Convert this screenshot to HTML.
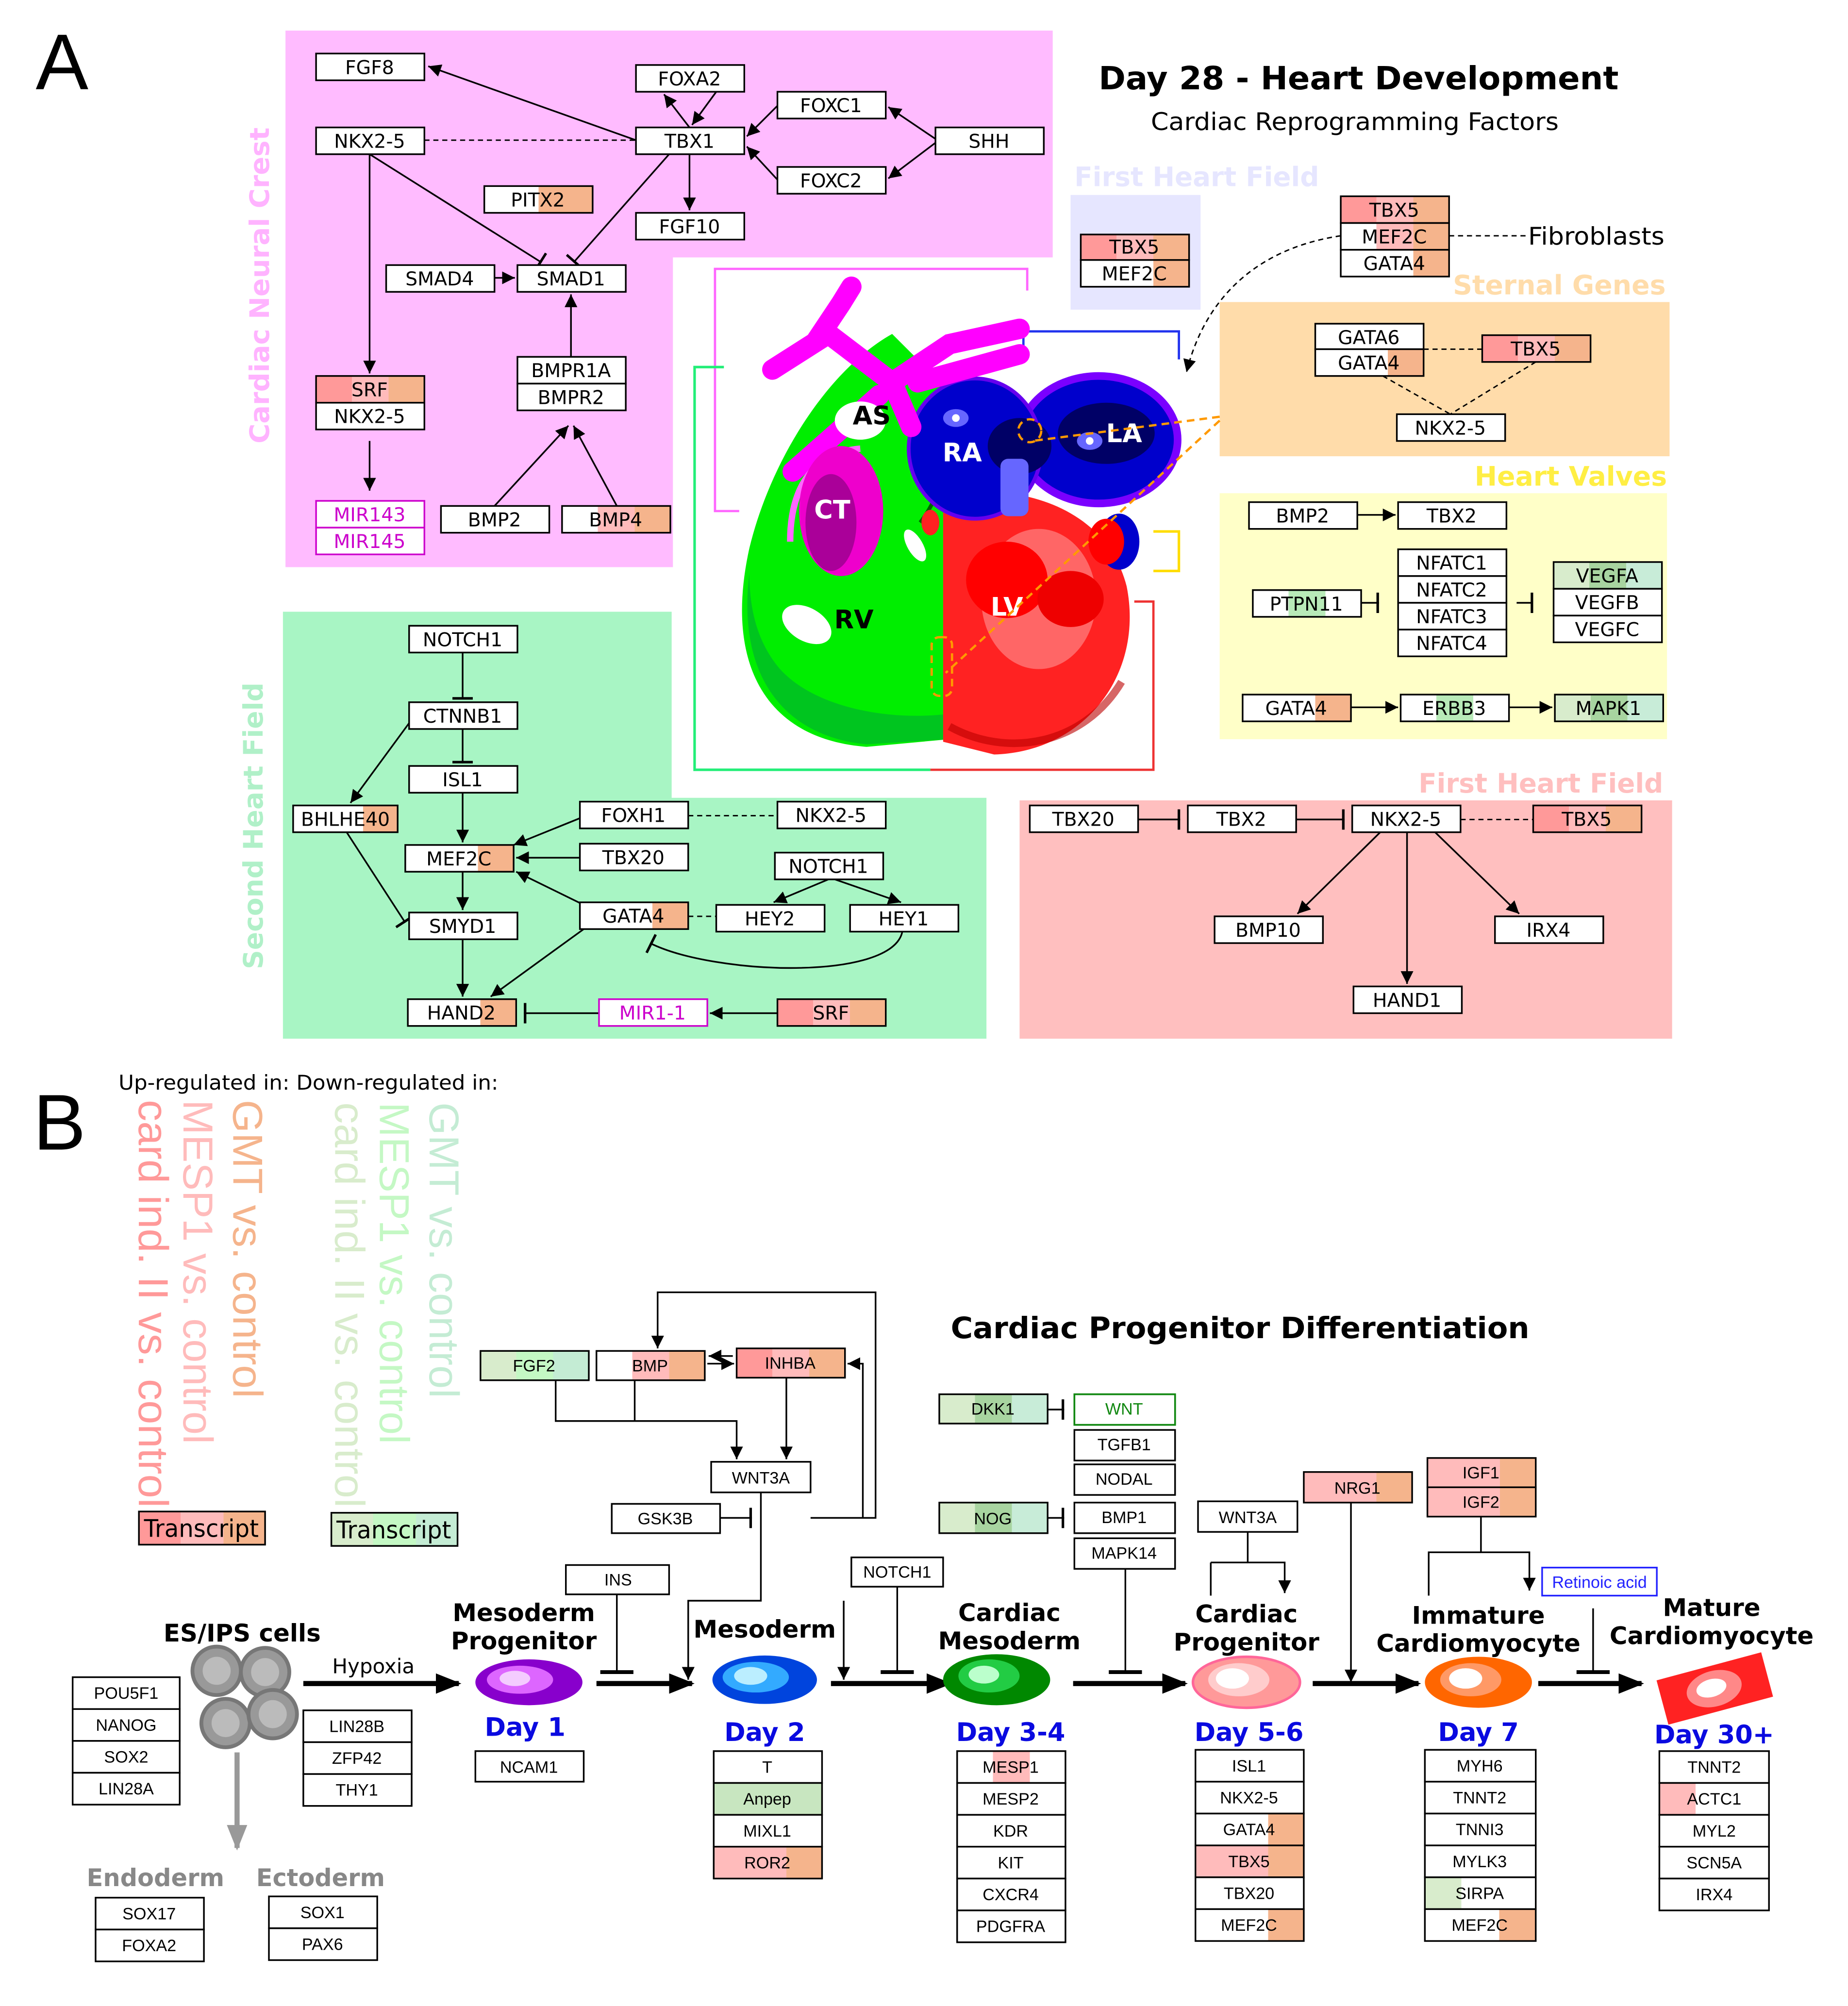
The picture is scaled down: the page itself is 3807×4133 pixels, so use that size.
<!DOCTYPE html>
<html><head><meta charset="utf-8"><style>
html,body{margin:0;padding:0;background:#fff}
svg{display:block}
text{font-family:"DejaVu Sans","Liberation Sans",sans-serif}
.b{stroke:#000;stroke-width:1.3}
.t{font-size:15px;text-anchor:middle;fill:#000}
.s{font-size:13px;text-anchor:middle;fill:#000;font-family:"Liberation Sans",sans-serif}
.l{stroke:#000;stroke-width:1.3;fill:none}
.d{stroke:#000;stroke-width:1.1;fill:none;stroke-dasharray:4 3}
.h{font-weight:bold;font-size:19px;text-anchor:middle;fill:#000}
.day{font-weight:bold;font-size:20px;text-anchor:middle;fill:#0a0ae0}
.fl{stroke:#000;stroke-width:4;fill:none}
.lib{font-family:"Liberation Sans",sans-serif}
</style></head><body>
<svg width="3807" height="4133" viewBox="0 0 1450 1574" preserveAspectRatio="none" xmlns="http://www.w3.org/2000/svg">
<defs>
<marker id="a" viewBox="0 0 10 10" refX="10" refY="5" markerWidth="10" markerHeight="10" markerUnits="userSpaceOnUse" orient="auto"><path d="M0,0L10,5L0,10z"/></marker>
<marker id="i" viewBox="0 0 4 16" refX="3" refY="8" markerWidth="4" markerHeight="16" markerUnits="userSpaceOnUse" orient="auto"><rect x="1" y="0" width="2" height="16"/></marker>
<marker id="A" viewBox="0 0 10 10" refX="9" refY="5" markerWidth="20" markerHeight="20" markerUnits="userSpaceOnUse" orient="auto"><path d="M0,1L10,5L0,9z"/></marker>
<marker id="ga" viewBox="0 0 10 10" refX="9" refY="5" markerWidth="20" markerHeight="20" markerUnits="userSpaceOnUse" orient="auto"><path d="M0,1L10,5L0,9z" fill="#999"/></marker>
<linearGradient id="gRO"><stop offset="0.33" stop-color="#ff9999"/><stop offset="0.33" stop-color="#ffbbbb"/><stop offset="0.67" stop-color="#ffbbbb"/><stop offset="0.67" stop-color="#f5b48c"/></linearGradient>
<linearGradient id="gPO"><stop offset="0.67" stop-color="#ffbbbb"/><stop offset="0.67" stop-color="#f5b48c"/></linearGradient>
<linearGradient id="gWPO"><stop offset="0.33" stop-color="#fff"/><stop offset="0.33" stop-color="#ffbbbb"/><stop offset="0.67" stop-color="#ffbbbb"/><stop offset="0.67" stop-color="#f5b48c"/></linearGradient>
<linearGradient id="gO"><stop offset="0.67" stop-color="#fff"/><stop offset="0.67" stop-color="#f5b48c"/></linearGradient>
<linearGradient id="gOh"><stop offset="0.5" stop-color="#fff"/><stop offset="0.5" stop-color="#f5b48c"/></linearGradient>
<linearGradient id="gG"><stop offset="0.33" stop-color="#d8eccc"/><stop offset="0.33" stop-color="#a8d4a0"/><stop offset="0.67" stop-color="#a8d4a0"/><stop offset="0.67" stop-color="#c8ecd8"/></linearGradient>
<linearGradient id="gG2"><stop offset="0.33" stop-color="#d8eccc"/><stop offset="0.33" stop-color="#c4f8c4"/><stop offset="0.67" stop-color="#c4f8c4"/><stop offset="0.67" stop-color="#c4ecd4"/></linearGradient>
<linearGradient id="gGm"><stop offset="0.33" stop-color="#fff"/><stop offset="0.33" stop-color="#b8eab8"/><stop offset="0.67" stop-color="#b8eab8"/><stop offset="0.67" stop-color="#fff"/></linearGradient>
<linearGradient id="gGl"><stop offset="0.33" stop-color="#d8eccc"/><stop offset="0.33" stop-color="#fff"/></linearGradient>
<linearGradient id="gMP"><stop offset="0.33" stop-color="#fff"/><stop offset="0.33" stop-color="#ffbbbb"/><stop offset="0.67" stop-color="#ffbbbb"/><stop offset="0.67" stop-color="#fff"/></linearGradient>
<linearGradient id="gPl"><stop offset="0.33" stop-color="#ffbbbb"/><stop offset="0.33" stop-color="#fff"/></linearGradient>
</defs>

<!-- ============ PART A ============ -->
<text x="28" y="70" font-size="62" fill="#000" class="lib">A</text>

<path d="M224,24H826V202H528V445H224Z" fill="#ffbbff"/>
<path d="M222,480H527V626H774V815H222Z" fill="#a8f5c4"/>
<rect x="840" y="153" width="102" height="90" fill="#e6e6ff"/>
<rect x="957" y="237" width="353" height="121" fill="#ffdcaa"/>
<rect x="957" y="387" width="351" height="193" fill="#ffffc8"/>
<rect x="800" y="628" width="512" height="187" fill="#ffbfbf"/>

<text transform="translate(211,224) rotate(-90)" font-size="21" font-weight="bold" fill="#ffb3ff" text-anchor="middle" textLength="248" lengthAdjust="spacingAndGlyphs">Cardiac Neural Crest</text>
<text transform="translate(206,648) rotate(-90)" font-size="21" font-weight="bold" fill="#b0f0c8" text-anchor="middle" textLength="225" lengthAdjust="spacingAndGlyphs">Second Heart Field</text>
<text x="843" y="146" font-size="21" font-weight="bold" fill="#e6e6ff" textLength="192" lengthAdjust="spacingAndGlyphs">First Heart Field</text>
<text x="1140" y="231" font-size="21" font-weight="bold" fill="#ffdcaa" textLength="167" lengthAdjust="spacingAndGlyphs">Sternal Genes</text>
<text x="1157" y="381" font-size="21" font-weight="bold" fill="#ffee44" textLength="151" lengthAdjust="spacingAndGlyphs">Heart Valves</text>
<text x="1113" y="622" font-size="21" font-weight="bold" fill="#ffbfbf" textLength="192" lengthAdjust="spacingAndGlyphs">First Heart Field</text>

<text x="862" y="70" font-size="25" font-weight="bold" textLength="408" lengthAdjust="spacingAndGlyphs">Day 28 - Heart Development</text>
<text x="903" y="102" font-size="19" textLength="320" lengthAdjust="spacingAndGlyphs">Cardiac Reprogramming Factors</text>

<!-- pink network edges -->
<line class="l" x1="499" y1="110" x2="336" y2="52" marker-end="url(#a)"/>
<line class="l" x1="541" y1="100" x2="521" y2="74" marker-end="url(#a)"/>
<line class="l" x1="562" y1="72" x2="543" y2="98" marker-end="url(#a)"/>
<line class="l" x1="610" y1="83" x2="586" y2="107" marker-end="url(#a)"/>
<line class="l" x1="610" y1="141" x2="586" y2="115" marker-end="url(#a)"/>
<line class="l" x1="734" y1="109" x2="697" y2="84" marker-end="url(#a)"/>
<line class="l" x1="734" y1="112" x2="697" y2="140" marker-end="url(#a)"/>
<line class="d" x1="333" y1="110" x2="499" y2="110"/>
<line class="l" x1="541" y1="121" x2="541" y2="165" marker-end="url(#a)"/>
<line class="l" x1="525" y1="121" x2="450" y2="206" marker-end="url(#i)"/>
<line class="l" x1="290" y1="121" x2="425" y2="206" marker-end="url(#i)"/>
<line class="l" x1="290" y1="121" x2="290" y2="293" marker-end="url(#a)"/>
<line class="l" x1="388" y1="218" x2="404" y2="218" marker-end="url(#a)"/>
<line class="l" x1="448" y1="280" x2="448" y2="231" marker-end="url(#a)"/>
<line class="l" x1="388" y1="397" x2="446" y2="334" marker-end="url(#a)"/>
<line class="l" x1="484" y1="397" x2="450" y2="334" marker-end="url(#a)"/>
<line class="l" x1="290" y1="346" x2="290" y2="385" marker-end="url(#a)"/>

<g>
<rect class="b" x="248" y="42" width="85" height="21" fill="#fff"/><text class="t" x="290" y="58">FGF8</text>
<rect class="b" x="499" y="51" width="85" height="21" fill="#fff"/><text class="t" x="541" y="67">FOXA2</text>
<rect class="b" x="499" y="100" width="85" height="21" fill="#fff"/><text class="t" x="541" y="116">TBX1</text>
<rect class="b" x="248" y="100" width="85" height="21" fill="#fff"/><text class="t" x="290" y="116">NKX2-5</text>
<rect class="b" x="610" y="72" width="85" height="21" fill="#fff"/><text class="t" x="652" y="88">FOXC1</text>
<rect class="b" x="734" y="100" width="85" height="21" fill="#fff"/><text class="t" x="776" y="116">SHH</text>
<rect class="b" x="610" y="131" width="85" height="21" fill="#fff"/><text class="t" x="652" y="147">FOXC2</text>
<rect class="b" x="380" y="146" width="85" height="21" fill="url(#gOh)"/><text class="t" x="422" y="162">PITX2</text>
<rect class="b" x="499" y="167" width="85" height="21" fill="#fff"/><text class="t" x="541" y="183">FGF10</text>
<rect class="b" x="303" y="208" width="85" height="21" fill="#fff"/><text class="t" x="345" y="224">SMAD4</text>
<rect class="b" x="406" y="208" width="85" height="21" fill="#fff"/><text class="t" x="448" y="224">SMAD1</text>
<rect class="b" x="406" y="280" width="85" height="21" fill="#fff"/><text class="t" x="448" y="296">BMPR1A</text>
<rect class="b" x="406" y="301" width="85" height="21" fill="#fff"/><text class="t" x="448" y="317">BMPR2</text>
<rect class="b" x="248" y="295" width="85" height="21" fill="url(#gRO)"/><text class="t" x="290" y="311">SRF</text>
<rect class="b" x="248" y="316" width="85" height="21" fill="#fff"/><text class="t" x="290" y="332">NKX2-5</text>
<rect x="248" y="393" width="85" height="21" fill="#fff" stroke="#cc00cc" stroke-width="1.3"/><text class="t" x="290" y="409" style="fill:#cc00cc">MIR143</text>
<rect x="248" y="414" width="85" height="21" fill="#fff" stroke="#cc00cc" stroke-width="1.3"/><text class="t" x="290" y="430" style="fill:#cc00cc">MIR145</text>
<rect class="b" x="346" y="397" width="85" height="21" fill="#fff"/><text class="t" x="388" y="413">BMP2</text>
<rect class="b" x="441" y="397" width="85" height="21" fill="url(#gWPO)"/><text class="t" x="483" y="413">BMP4</text>
</g>

<!-- heart brackets -->
<polyline points="580,401 561,401 561,211 806,211 806,228" fill="none" stroke="#ff66ff" stroke-width="1.8"/>
<polyline points="568,288 545,288 545,604 730,604" fill="none" stroke="#22ee77" stroke-width="2"/>
<polyline points="730,604 905,604 905,472 890,472" fill="none" stroke="#ee3333" stroke-width="1.8"/>
<polyline points="803,283 803,260 925,260 925,282" fill="none" stroke="#2233ee" stroke-width="1.8"/>
<polyline points="905,417 925,417 925,448 905,448" fill="none" stroke="#ffdd00" stroke-width="2"/>

<!-- heart -->
<g>
<path d="M700,262 C650,290 605,360 588,430 C568,520 600,580 680,586 L745,580 L748,420 L738,300 Z" fill="#00ee00"/>
<path d="M588,450 C578,530 615,578 680,584 L745,580 L745,560 C700,566 640,556 612,525 C595,505 588,480 588,450Z" fill="#00aa33" opacity="0.6"/>
<path d="M738,300 C748,340 745,380 722,410" fill="none" stroke="#006600" stroke-width="3"/>
<path d="M740,388 C800,378 868,398 884,460 C898,530 850,590 780,592 L740,582 Z" fill="#ff2222"/>
<ellipse cx="815" cy="470" rx="45" ry="55" fill="#ff6666"/>
<ellipse cx="790" cy="455" rx="32" ry="30" fill="#ff0000"/>
<ellipse cx="840" cy="470" rx="26" ry="22" fill="#ee0000"/>
<path d="M745,570 C790,595 850,585 880,535" fill="none" stroke="#bb0000" stroke-width="6" opacity="0.6"/>
<ellipse cx="862" cy="345" rx="62" ry="50" fill="#0000cc" stroke="#7a00ff" stroke-width="6"/>
<ellipse cx="868" cy="340" rx="38" ry="24" fill="#000066"/>
<ellipse cx="765" cy="352" rx="52" ry="55" fill="#0000cc" stroke="#6600ee" stroke-width="3"/>
<ellipse cx="800" cy="350" rx="25" ry="22" fill="#000066"/>
<rect x="785" y="360" width="22" height="45" rx="6" fill="#6666ff"/>
<ellipse cx="878" cy="425" rx="16" ry="22" fill="#0000cc"/>
<ellipse cx="868" cy="425" rx="14" ry="18" fill="#ff0000"/>
<ellipse cx="750" cy="328" rx="10" ry="7" fill="#6666ff"/><circle cx="750" cy="328" r="3" fill="#fff"/>
<ellipse cx="855" cy="346" rx="10" ry="7" fill="#6666ff"/><circle cx="855" cy="346" r="3" fill="#fff"/>
<g stroke="#ff00ff" stroke-width="16" stroke-linecap="round" fill="none">
<path d="M606,290 L650,262 L700,300"/>
<path d="M640,268 L660,238 L668,225"/>
<path d="M700,300 L745,270 L800,258"/>
<path d="M720,300 L800,278"/>
<path d="M690,310 L622,370"/>
<path d="M700,300 L715,335"/>
</g>
<ellipse cx="675" cy="330" rx="20" ry="15" fill="#fff"/>
<path d="M620,425 C620,380 640,355 675,352" fill="none" stroke="#ff66ff" stroke-width="5"/>
<ellipse cx="660" cy="401" rx="33" ry="51" fill="#ee00cc"/>
<ellipse cx="652" cy="410" rx="20" ry="38" fill="#aa0099"/>
<ellipse cx="633" cy="490" rx="21" ry="13" transform="rotate(30 633 490)" fill="#fff"/>
<ellipse cx="718" cy="428" rx="6" ry="14" transform="rotate(-30 718 428)" fill="#fff"/>
<ellipse cx="730" cy="410" rx="7" ry="10" fill="#ff2222"/>
<text x="684" y="333" font-size="20" font-weight="bold" text-anchor="middle" fill="#000">AS</text>
<text x="755" y="362" font-size="20" font-weight="bold" text-anchor="middle" fill="#fff">RA</text>
<text x="882" y="347" font-size="20" font-weight="bold" text-anchor="middle" fill="#fff">LA</text>
<text x="653" y="407" font-size="20" font-weight="bold" text-anchor="middle" fill="#fff">CT</text>
<text x="670" y="493" font-size="20" font-weight="bold" text-anchor="middle" fill="#000">RV</text>
<text x="790" y="483" font-size="20" font-weight="bold" text-anchor="middle" fill="#fff">LV</text>
</g>
<g stroke="#ff9900" stroke-width="1.8" stroke-dasharray="6 4" fill="none">
<line x1="957" y1="327" x2="810" y2="346"/>
<circle cx="808" cy="338" r="9"/>
<line x1="957" y1="330" x2="742" y2="528"/>
<rect x="731" y="500" width="16" height="46" rx="6"/>
</g>

<rect class="b" x="848" y="184" width="85" height="20" fill="url(#gRO)"/><text class="t" x="890" y="199">TBX5</text>
<rect class="b" x="848" y="204" width="85" height="21" fill="url(#gO)"/><text class="t" x="890" y="220">MEF2C</text>
<rect class="b" x="1052" y="154" width="85" height="21" fill="url(#gRO)"/><text class="t" x="1094" y="170">TBX5</text>
<rect class="b" x="1052" y="175" width="85" height="21" fill="url(#gWPO)"/><text class="t" x="1094" y="191">MEF2C</text>
<rect class="b" x="1052" y="196" width="85" height="21" fill="url(#gO)"/><text class="t" x="1094" y="212">GATA4</text>
<line class="d" x1="1137" y1="185" x2="1198" y2="185"/>
<text x="1199" y="192" font-size="19" textLength="107" lengthAdjust="spacingAndGlyphs">Fibroblasts</text>
<path class="d" d="M1052,185 C985,195 945,235 931,292" marker-end="url(#a)"/>

<line class="d" x1="1117" y1="274" x2="1163" y2="274"/>
<line class="d" x1="1085" y1="295" x2="1138" y2="325"/>
<line class="d" x1="1205" y1="284" x2="1138" y2="325"/>
<rect class="b" x="1032" y="254" width="85" height="20" fill="#fff"/><text class="t" x="1074" y="270">GATA6</text>
<rect class="b" x="1032" y="274" width="85" height="21" fill="url(#gO)"/><text class="t" x="1074" y="290">GATA4</text>
<rect class="b" x="1163" y="263" width="85" height="21" fill="url(#gRO)"/><text class="t" x="1205" y="279">TBX5</text>
<rect class="b" x="1096" y="325" width="85" height="21" fill="#fff"/><text class="t" x="1138" y="341">NKX2-5</text>

<line class="l" x1="1065" y1="404" x2="1095" y2="404" marker-end="url(#a)"/>
<line class="l" x1="1068" y1="473" x2="1082" y2="473" marker-end="url(#i)"/>
<line class="l" x1="1190" y1="473" x2="1203" y2="473" marker-end="url(#i)"/>
<line class="l" x1="1060" y1="555" x2="1097" y2="555" marker-end="url(#a)"/>
<line class="l" x1="1184" y1="555" x2="1218" y2="555" marker-end="url(#a)"/>
<rect class="b" x="980" y="394" width="85" height="21" fill="#fff"/><text class="t" x="1022" y="410">BMP2</text>
<rect class="b" x="1097" y="394" width="85" height="21" fill="#fff"/><text class="t" x="1139" y="410">TBX2</text>
<rect class="b" x="1097" y="431" width="85" height="21" fill="#fff"/><text class="t" x="1139" y="447">NFATC1</text>
<rect class="b" x="1097" y="452" width="85" height="21" fill="#fff"/><text class="t" x="1139" y="468">NFATC2</text>
<rect class="b" x="1097" y="473" width="85" height="21" fill="#fff"/><text class="t" x="1139" y="489">NFATC3</text>
<rect class="b" x="1097" y="494" width="85" height="21" fill="#fff"/><text class="t" x="1139" y="510">NFATC4</text>
<rect class="b" x="983" y="463" width="85" height="21" fill="url(#gGm)"/><text class="t" x="1025" y="479">PTPN11</text>
<rect class="b" x="1219" y="441" width="85" height="21" fill="url(#gG)"/><text class="t" x="1261" y="457">VEGFA</text>
<rect class="b" x="1219" y="462" width="85" height="21" fill="#fff"/><text class="t" x="1261" y="478">VEGFB</text>
<rect class="b" x="1219" y="483" width="85" height="21" fill="#fff"/><text class="t" x="1261" y="499">VEGFC</text>
<rect class="b" x="975" y="545" width="85" height="21" fill="url(#gO)"/><text class="t" x="1017" y="561">GATA4</text>
<rect class="b" x="1099" y="545" width="85" height="21" fill="url(#gGm)"/><text class="t" x="1141" y="561">ERBB3</text>
<rect class="b" x="1220" y="545" width="85" height="21" fill="url(#gG)"/><text class="t" x="1262" y="561">MAPK1</text>

<line class="l" x1="893" y1="643" x2="926" y2="643" marker-end="url(#i)"/>
<line class="l" x1="1017" y1="643" x2="1055" y2="643" marker-end="url(#i)"/>
<line class="d" x1="1146" y1="643" x2="1203" y2="643"/>
<line class="l" x1="1083" y1="653" x2="1018" y2="717" marker-end="url(#a)"/>
<line class="l" x1="1104" y1="653" x2="1104" y2="772" marker-end="url(#a)"/>
<line class="l" x1="1126" y1="653" x2="1192" y2="717" marker-end="url(#a)"/>
<rect class="b" x="808" y="632" width="85" height="21" fill="#fff"/><text class="t" x="850" y="648">TBX20</text>
<rect class="b" x="932" y="632" width="85" height="21" fill="#fff"/><text class="t" x="974" y="648">TBX2</text>
<rect class="b" x="1061" y="632" width="85" height="21" fill="#fff"/><text class="t" x="1103" y="648">NKX2-5</text>
<rect class="b" x="1203" y="632" width="85" height="21" fill="url(#gRO)"/><text class="t" x="1245" y="648">TBX5</text>
<rect class="b" x="953" y="719" width="85" height="21" fill="#fff"/><text class="t" x="995" y="735">BMP10</text>
<rect class="b" x="1062" y="774" width="85" height="21" fill="#fff"/><text class="t" x="1104" y="790">HAND1</text>
<rect class="b" x="1173" y="719" width="85" height="21" fill="#fff"/><text class="t" x="1215" y="735">IRX4</text>

<line class="l" x1="363" y1="512" x2="363" y2="549" marker-end="url(#i)"/>
<line class="l" x1="363" y1="572" x2="363" y2="599" marker-end="url(#i)"/>
<line class="l" x1="322" y1="566" x2="275" y2="630" marker-end="url(#a)"/>
<line class="l" x1="363" y1="622" x2="363" y2="661" marker-end="url(#a)"/>
<line class="d" x1="540" y1="640" x2="610" y2="640"/>
<line class="l" x1="455" y1="642" x2="403" y2="663" marker-end="url(#a)"/>
<line class="l" x1="455" y1="673" x2="405" y2="673" marker-end="url(#a)"/>
<line class="l" x1="650" y1="690" x2="607" y2="708" marker-end="url(#a)"/>
<line class="l" x1="655" y1="690" x2="707" y2="708" marker-end="url(#a)"/>
<line class="d" x1="540" y1="719" x2="562" y2="719"/>
<path class="l" d="M708,731 C700,770 560,765 510,740" marker-end="url(#i)"/>
<line class="l" x1="458" y1="710" x2="405" y2="684" marker-end="url(#a)"/>
<line class="l" x1="272" y1="653" x2="318" y2="724" marker-end="url(#i)"/>
<line class="l" x1="363" y1="684" x2="363" y2="714" marker-end="url(#a)"/>
<line class="l" x1="363" y1="737" x2="363" y2="782" marker-end="url(#a)"/>
<line class="l" x1="458" y1="729" x2="385" y2="782" marker-end="url(#a)"/>
<line class="l" x1="470" y1="795" x2="411" y2="795" marker-end="url(#i)"/>
<line class="l" x1="610" y1="795" x2="557" y2="795" marker-end="url(#a)"/>
<rect class="b" x="321" y="491" width="85" height="21" fill="#fff"/><text class="t" x="363" y="507">NOTCH1</text>
<rect class="b" x="321" y="551" width="85" height="21" fill="#fff"/><text class="t" x="363" y="567">CTNNB1</text>
<rect class="b" x="321" y="601" width="85" height="21" fill="#fff"/><text class="t" x="363" y="617">ISL1</text>
<rect class="b" x="230" y="632" width="82" height="21" fill="url(#gO)"/><text class="t" x="271" y="648">BHLHE40</text>
<rect class="b" x="318" y="663" width="85" height="21" fill="url(#gO)"/><text class="t" x="360" y="679">MEF2C</text>
<rect class="b" x="455" y="629" width="85" height="21" fill="#fff"/><text class="t" x="497" y="645">FOXH1</text>
<rect class="b" x="610" y="629" width="85" height="21" fill="#fff"/><text class="t" x="652" y="645">NKX2-5</text>
<rect class="b" x="455" y="662" width="85" height="21" fill="#fff"/><text class="t" x="497" y="678">TBX20</text>
<rect class="b" x="608" y="669" width="85" height="21" fill="#fff"/><text class="t" x="650" y="685">NOTCH1</text>
<rect class="b" x="562" y="710" width="85" height="21" fill="#fff"/><text class="t" x="604" y="726">HEY2</text>
<rect class="b" x="667" y="710" width="85" height="21" fill="#fff"/><text class="t" x="709" y="726">HEY1</text>
<rect class="b" x="455" y="708" width="85" height="21" fill="url(#gO)"/><text class="t" x="497" y="724">GATA4</text>
<rect class="b" x="321" y="716" width="85" height="21" fill="#fff"/><text class="t" x="363" y="732">SMYD1</text>
<rect class="b" x="320" y="784" width="85" height="21" fill="url(#gO)"/><text class="t" x="362" y="800">HAND2</text>
<rect x="470" y="784" width="85" height="21" fill="#fff" stroke="#cc00cc" stroke-width="1.3"/><text class="t" x="512" y="800" style="fill:#cc00cc">MIR1-1</text>
<rect class="b" x="610" y="784" width="85" height="21" fill="url(#gRO)"/><text class="t" x="652" y="800">SRF</text>

<!-- ============ PART B ============ -->
<text x="26" y="902" font-size="62" fill="#000" class="lib">B</text>
<text x="93" y="855" font-size="16" textLength="298" lengthAdjust="spacingAndGlyphs">Up-regulated in: Down-regulated in:</text>
<g font-size="33" class="lib">
<text class="lib" transform="translate(109,863) rotate(90)" fill="#ff9999" textLength="320" lengthAdjust="spacingAndGlyphs">card ind. II vs. control</text>
<text class="lib" transform="translate(144,863) rotate(90)" fill="#ffbbbb" textLength="270" lengthAdjust="spacingAndGlyphs">MESP1 vs. control</text>
<text class="lib" transform="translate(183,863) rotate(90)" fill="#f5b48c" textLength="234" lengthAdjust="spacingAndGlyphs">GMT vs. control</text>
<text class="lib" transform="translate(263,865) rotate(90)" fill="#d8eccc" textLength="318" lengthAdjust="spacingAndGlyphs">card ind. II vs. control</text>
<text class="lib" transform="translate(298,865) rotate(90)" fill="#c4f8c4" textLength="268" lengthAdjust="spacingAndGlyphs">MESP1 vs. control</text>
<text class="lib" transform="translate(337,865) rotate(90)" fill="#c4ecd4" textLength="232" lengthAdjust="spacingAndGlyphs">GMT vs. control</text>
</g>
<rect class="b" x="109" y="1186" width="99" height="26" fill="url(#gRO)"/><text x="158" y="1206" font-size="19" text-anchor="middle" textLength="90" lengthAdjust="spacingAndGlyphs">Transcript</text>
<rect class="b" x="260" y="1187" width="99" height="26" fill="url(#gG2)"/><text x="309" y="1207" font-size="19" text-anchor="middle" textLength="90" lengthAdjust="spacingAndGlyphs">Transcript</text>

<text x="746" y="1050" font-size="23" font-weight="bold" textLength="454" lengthAdjust="spacingAndGlyphs">Cardiac Progenitor Differentiation</text>

<polyline class="l" points="436,1083 436,1115 578,1115 578,1145" marker-end="url(#a)"/>
<line class="l" x1="498" y1="1083" x2="498" y2="1115"/>
<line class="l" x1="617" y1="1081" x2="617" y2="1145" marker-end="url(#a)"/>
<line class="l" x1="555" y1="1070" x2="576" y2="1070" marker-end="url(#a)"/>
<line class="l" x1="575" y1="1064" x2="556" y2="1064" marker-end="url(#a)"/>
<polyline class="l" points="636,1191 687,1191 687,1014 516,1014 516,1058" marker-end="url(#a)"/>
<polyline class="l" points="677,1191 677,1070 665,1070" marker-end="url(#a)"/>
<line class="l" x1="565" y1="1191" x2="590" y2="1191" marker-end="url(#i)"/>
<polyline class="l" points="597,1171 597,1256 540,1256 540,1318" marker-end="url(#a)"/>
<polyline class="l" points="484,1250 484,1312"/><line class="l" x1="471" y1="1312" x2="497" y2="1312" style="stroke-width:3"/>
<polyline class="l" points="704,1245 704,1312"/><line class="l" x1="691" y1="1312" x2="717" y2="1312" style="stroke-width:3"/>
<polyline class="l" points="662,1256 662,1318" marker-end="url(#a)"/>
<line class="l" x1="822" y1="1106" x2="835" y2="1106" marker-end="url(#i)"/>
<line class="l" x1="822" y1="1191" x2="835" y2="1191" marker-end="url(#i)"/>
<polyline class="l" points="883,1231 883,1312"/><line class="l" x1="870" y1="1312" x2="896" y2="1312" style="stroke-width:3"/>
<polyline class="l" points="979,1202 979,1226 1008,1226 1008,1250" marker-end="url(#a)"/>
<line class="l" x1="950" y1="1226" x2="979" y2="1226"/><line class="l" x1="950" y1="1226" x2="950" y2="1252"/>
<line class="l" x1="1060" y1="1179" x2="1060" y2="1320" marker-end="url(#a)"/>
<polyline class="l" points="1162,1190 1162,1218 1200,1218 1200,1248" marker-end="url(#a)"/>
<polyline class="l" points="1162,1218 1121,1218 1121,1252"/>
<polyline class="l" points="1250,1262 1250,1312"/><line class="l" x1="1237" y1="1312" x2="1263" y2="1312" style="stroke-width:3"/>

<rect class="b" x="377" y="1060" width="85" height="23" fill="url(#gG2)"/><text class="s" x="419" y="1076">FGF2</text>
<rect class="b" x="468" y="1060" width="85" height="23" fill="url(#gWPO)"/><text class="s" x="510" y="1076">BMP</text>
<rect class="b" x="578" y="1058" width="85" height="23" fill="url(#gRO)"/><text class="s" x="620" y="1074">INHBA</text>
<rect class="b" x="558" y="1147" width="78" height="24" fill="#fff"/><text class="s" x="597" y="1164">WNT3A</text>
<rect class="b" x="480" y="1180" width="85" height="23" fill="#fff"/><text class="s" x="522" y="1196">GSK3B</text>
<rect class="b" x="444" y="1228" width="81" height="23" fill="#fff"/><text class="s" x="485" y="1244">INS</text>
<rect class="b" x="668" y="1222" width="72" height="23" fill="#fff"/><text class="s" x="704" y="1238">NOTCH1</text>
<rect class="b" x="737" y="1094" width="85" height="23" fill="url(#gG)"/><text class="s" x="779" y="1110">DKK1</text>
<rect x="843" y="1094" width="79" height="24" fill="#fff" stroke="#118811" stroke-width="1.4"/><text class="s" x="882" y="1110" style="fill:#118811">WNT</text>
<rect class="b" x="843" y="1122" width="79" height="24" fill="#fff"/><text class="s" x="882" y="1138">TGFB1</text>
<rect class="b" x="843" y="1149" width="79" height="24" fill="#fff"/><text class="s" x="882" y="1165">NODAL</text>
<rect class="b" x="843" y="1179" width="79" height="24" fill="#fff"/><text class="s" x="882" y="1195">BMP1</text>
<rect class="b" x="843" y="1207" width="79" height="24" fill="#fff"/><text class="s" x="882" y="1223">MAPK14</text>
<rect class="b" x="737" y="1179" width="85" height="24" fill="url(#gG)"/><text class="s" x="779" y="1196">NOG</text>
<rect class="b" x="940" y="1178" width="78" height="24" fill="#fff"/><text class="s" x="979" y="1195">WNT3A</text>
<rect class="b" x="1023" y="1155" width="85" height="24" fill="url(#gPO)"/><text class="s" x="1065" y="1172">NRG1</text>
<rect class="b" x="1120" y="1144" width="85" height="23" fill="url(#gPO)"/><text class="s" x="1162" y="1160">IGF1</text>
<rect class="b" x="1120" y="1167" width="85" height="23" fill="url(#gPO)"/><text class="s" x="1162" y="1183">IGF2</text>
<rect x="1210" y="1230" width="90" height="22" fill="#fff" stroke="#2222ff" stroke-width="1.3"/><text class="s" x="1255" y="1246" style="fill:#2222ff">Retinoic acid</text>

<line class="fl" x1="238" y1="1321" x2="360" y2="1321" marker-end="url(#A)"/>
<line class="fl" x1="468" y1="1321" x2="543" y2="1321" marker-end="url(#A)"/>
<line class="fl" x1="652" y1="1321" x2="745" y2="1321" marker-end="url(#A)"/>
<line class="fl" x1="842" y1="1321" x2="930" y2="1321" marker-end="url(#A)"/>
<line class="fl" x1="1030" y1="1321" x2="1113" y2="1321" marker-end="url(#A)"/>
<line class="fl" x1="1207" y1="1321" x2="1288" y2="1321" marker-end="url(#A)"/>
<line x1="186" y1="1375" x2="186" y2="1450" stroke="#999" stroke-width="4" marker-end="url(#ga)"/>

<g fill="#999" stroke="#777" stroke-width="3">
<circle cx="170" cy="1311" r="19"/><circle cx="208" cy="1312" r="19"/><circle cx="177" cy="1352" r="19"/><circle cx="214" cy="1345" r="19"/>
</g>
<g fill="#bbb"><circle cx="170" cy="1311" r="11"/><circle cx="208" cy="1312" r="11"/><circle cx="177" cy="1352" r="11"/><circle cx="214" cy="1345" r="11"/></g>
<ellipse cx="415" cy="1320" rx="42" ry="18" fill="#8800cc"/><ellipse cx="408" cy="1318" rx="26" ry="11" fill="#dd66ff"/><ellipse cx="404" cy="1317" rx="12" ry="6" fill="#f4ccff"/>
<ellipse cx="600" cy="1318" rx="41" ry="19" fill="#0044dd"/><ellipse cx="593" cy="1316" rx="26" ry="12" fill="#33aaff"/><ellipse cx="589" cy="1315" rx="13" ry="7" fill="#bbeeff"/>
<ellipse cx="782" cy="1318" rx="42" ry="20" fill="#008800"/><ellipse cx="776" cy="1315" rx="24" ry="13" fill="#22cc44"/><ellipse cx="772" cy="1314" rx="12" ry="7" fill="#bbffcc"/>
<ellipse cx="978" cy="1320" rx="42" ry="20" fill="#ff9999" stroke="#ff6699" stroke-width="2"/><ellipse cx="972" cy="1318" rx="24" ry="13" fill="#ffcccc"/><ellipse cx="967" cy="1317" rx="13" ry="8" fill="#fff"/>
<ellipse cx="1160" cy="1320" rx="42" ry="20" fill="#ff6600"/><ellipse cx="1154" cy="1318" rx="24" ry="13" fill="#ff9966"/><ellipse cx="1150" cy="1317" rx="13" ry="8" fill="#fff"/>
<g transform="rotate(-15 1345 1325)"><rect x="1303" y="1307" width="85" height="36" fill="#ff2222"/><ellipse cx="1345" cy="1325" rx="22" ry="14" fill="#ff8888"/><ellipse cx="1343" cy="1324" rx="12" ry="7" fill="#fff"/></g>

<text class="h" x="190" y="1288">ES/IPS cells</text>
<text class="h" x="411" y="1272">Mesoderm</text><text class="h" x="411" y="1294">Progenitor</text>
<text class="h" x="600" y="1285">Mesoderm</text>
<text class="h" x="792" y="1272">Cardiac</text><text class="h" x="792" y="1294">Mesoderm</text>
<text class="h" x="978" y="1273">Cardiac</text><text class="h" x="978" y="1295">Progenitor</text>
<text class="h" x="1160" y="1274">Immature</text><text class="h" x="1160" y="1296">Cardiomyocyte</text>
<text class="h" x="1343" y="1268">Mature</text><text class="h" x="1343" y="1290">Cardiomyocyte</text>
<text x="293" y="1313" font-size="16" text-anchor="middle">Hypoxia</text>
<text class="day" x="412" y="1362">Day 1</text>
<text class="day" x="600" y="1366">Day 2</text>
<text class="day" x="793" y="1366">Day 3-4</text>
<text class="day" x="980" y="1366">Day 5-6</text>
<text class="day" x="1160" y="1366">Day 7</text>
<text class="day" x="1345" y="1368">Day 30+</text>
<text x="68" y="1480" font-size="19" font-weight="bold" fill="#888" textLength="108" lengthAdjust="spacingAndGlyphs">Endoderm</text>
<text x="201" y="1480" font-size="19" font-weight="bold" fill="#888" textLength="101" lengthAdjust="spacingAndGlyphs">Ectoderm</text>

<g>
<rect class="b" x="57" y="1316" width="84" height="25" fill="#fff"/><text class="s" x="99" y="1333">POU5F1</text>
<rect class="b" x="57" y="1341" width="84" height="25" fill="#fff"/><text class="s" x="99" y="1358">NANOG</text>
<rect class="b" x="57" y="1366" width="84" height="25" fill="#fff"/><text class="s" x="99" y="1383">SOX2</text>
<rect class="b" x="57" y="1391" width="84" height="25" fill="#fff"/><text class="s" x="99" y="1408">LIN28A</text>
<rect class="b" x="238" y="1342" width="85" height="25" fill="#fff"/><text class="s" x="280" y="1359">LIN28B</text>
<rect class="b" x="238" y="1367" width="85" height="25" fill="#fff"/><text class="s" x="280" y="1384">ZFP42</text>
<rect class="b" x="238" y="1392" width="85" height="25" fill="#fff"/><text class="s" x="280" y="1409">THY1</text>
<rect class="b" x="373" y="1374" width="85" height="24" fill="#fff"/><text class="s" x="415" y="1391">NCAM1</text>
<rect class="b" x="560" y="1374" width="85" height="25" fill="#fff"/><text class="s" x="602" y="1391">T</text>
<rect class="b" x="560" y="1399" width="85" height="25" fill="#c8e6c0"/><text class="s" x="602" y="1416">Anpep</text>
<rect class="b" x="560" y="1424" width="85" height="25" fill="#fff"/><text class="s" x="602" y="1441">MIXL1</text>
<rect class="b" x="560" y="1449" width="85" height="25" fill="url(#gPO)"/><text class="s" x="602" y="1466">ROR2</text>
<rect class="b" x="751" y="1374" width="85" height="25" fill="url(#gMP)"/><text class="s" x="793" y="1391">MESP1</text>
<rect class="b" x="751" y="1399" width="85" height="25" fill="#fff"/><text class="s" x="793" y="1416">MESP2</text>
<rect class="b" x="751" y="1424" width="85" height="25" fill="#fff"/><text class="s" x="793" y="1441">KDR</text>
<rect class="b" x="751" y="1449" width="85" height="25" fill="#fff"/><text class="s" x="793" y="1466">KIT</text>
<rect class="b" x="751" y="1474" width="85" height="25" fill="#fff"/><text class="s" x="793" y="1491">CXCR4</text>
<rect class="b" x="751" y="1499" width="85" height="25" fill="#fff"/><text class="s" x="793" y="1516">PDGFRA</text>
<rect class="b" x="938" y="1373" width="85" height="25" fill="#fff"/><text class="s" x="980" y="1390">ISL1</text>
<rect class="b" x="938" y="1398" width="85" height="25" fill="#fff"/><text class="s" x="980" y="1415">NKX2-5</text>
<rect class="b" x="938" y="1423" width="85" height="25" fill="url(#gO)"/><text class="s" x="980" y="1440">GATA4</text>
<rect class="b" x="938" y="1448" width="85" height="25" fill="url(#gPO)"/><text class="s" x="980" y="1465">TBX5</text>
<rect class="b" x="938" y="1473" width="85" height="25" fill="#fff"/><text class="s" x="980" y="1490">TBX20</text>
<rect class="b" x="938" y="1498" width="85" height="25" fill="url(#gO)"/><text class="s" x="980" y="1515">MEF2C</text>
<rect class="b" x="1118" y="1373" width="87" height="25" fill="#fff"/><text class="s" x="1161" y="1390">MYH6</text>
<rect class="b" x="1118" y="1398" width="87" height="25" fill="#fff"/><text class="s" x="1161" y="1415">TNNT2</text>
<rect class="b" x="1118" y="1423" width="87" height="25" fill="#fff"/><text class="s" x="1161" y="1440">TNNI3</text>
<rect class="b" x="1118" y="1448" width="87" height="25" fill="#fff"/><text class="s" x="1161" y="1465">MYLK3</text>
<rect class="b" x="1118" y="1473" width="87" height="25" fill="url(#gGl)"/><text class="s" x="1161" y="1490">SIRPA</text>
<rect class="b" x="1118" y="1498" width="87" height="25" fill="url(#gO)"/><text class="s" x="1161" y="1515">MEF2C</text>
<rect class="b" x="1302" y="1374" width="86" height="25" fill="#fff"/><text class="s" x="1345" y="1391">TNNT2</text>
<rect class="b" x="1302" y="1399" width="86" height="25" fill="url(#gPl)"/><text class="s" x="1345" y="1416">ACTC1</text>
<rect class="b" x="1302" y="1424" width="86" height="25" fill="#fff"/><text class="s" x="1345" y="1441">MYL2</text>
<rect class="b" x="1302" y="1449" width="86" height="25" fill="#fff"/><text class="s" x="1345" y="1466">SCN5A</text>
<rect class="b" x="1302" y="1474" width="86" height="25" fill="#fff"/><text class="s" x="1345" y="1491">IRX4</text>
<rect class="b" x="75" y="1489" width="85" height="25" fill="#fff"/><text class="s" x="117" y="1506">SOX17</text>
<rect class="b" x="75" y="1514" width="85" height="25" fill="#fff"/><text class="s" x="117" y="1531">FOXA2</text>
<rect class="b" x="211" y="1488" width="85" height="25" fill="#fff"/><text class="s" x="253" y="1505">SOX1</text>
<rect class="b" x="211" y="1513" width="85" height="25" fill="#fff"/><text class="s" x="253" y="1530">PAX6</text>
</g>
</svg>
</body></html>
